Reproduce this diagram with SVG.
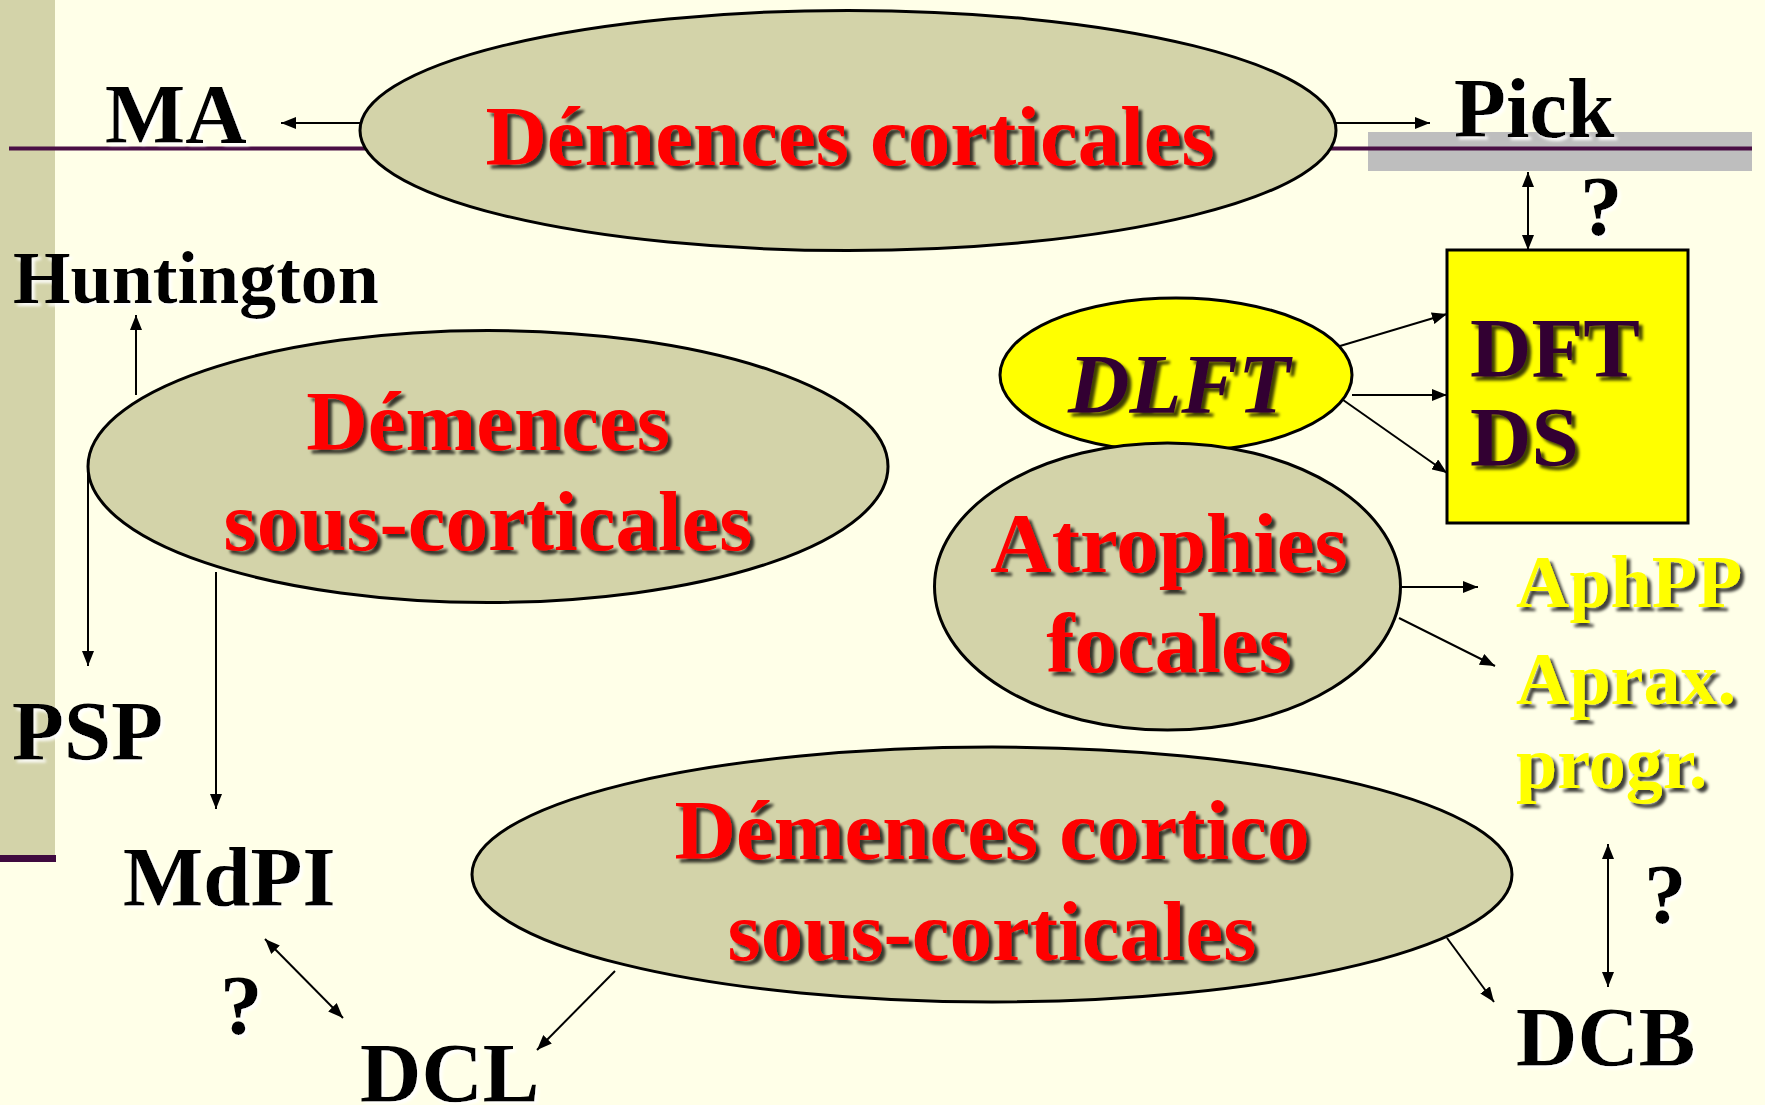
<svg xmlns="http://www.w3.org/2000/svg" width="1765" height="1105" viewBox="0 0 1765 1105">
<defs>
<style>
text{font-family:"Liberation Serif","Times New Roman",serif;font-weight:bold;}
.red{fill:#FF0000;font-size:85px;text-anchor:middle;filter:url(#dk);}
.blk{fill:#000;font-size:85px;filter:url(#lt);}
.sm{font-size:74px;}
.pur{fill:#330033;font-size:85px;filter:url(#dk);}
.yel{fill:#FFFF00;font-size:74px;filter:url(#dk);}
.ell{fill:#D3D3A9;stroke:#000;stroke-width:3;}
.con line{stroke:#000;stroke-width:2;fill:none;}
.one{marker-end:url(#ah);}
.two{marker-end:url(#ah);marker-start:url(#ah);}
</style>
<filter id="dk" x="-10%" y="-20%" width="130%" height="150%"><feDropShadow dx="4" dy="4" stdDeviation="1.5" flood-color="#000" flood-opacity="0.75"/></filter>
<filter id="lt" x="-10%" y="-20%" width="130%" height="150%"><feDropShadow dx="3" dy="3" stdDeviation="1.5" flood-color="#FFFFFF" flood-opacity="0.9"/></filter>
<marker id="ah" markerUnits="userSpaceOnUse" markerWidth="16" markerHeight="12" refX="15" refY="6" orient="auto-start-reverse"><path d="M0,0 L15,6 L0,12 z" fill="#000"/></marker>
</defs>
<rect x="0" y="0" width="1765" height="1105" fill="#FFFFE8"/>
<g id="background">
<rect x="0" y="0" width="55" height="856" fill="#D3D3A9"/>
<rect x="0" y="855" width="56" height="7" fill="#3F0A3F"/>
<rect x="1368" y="132" width="384" height="39" fill="#BEBEBE"/>
<line x1="9" y1="148.5" x2="1752" y2="148.5" stroke="#4A0F45" stroke-width="4"/>
</g>
<g class="con" id="connectors">
<line class="one" x1="360" y1="123" x2="281" y2="123"/>
<line class="one" x1="1336" y1="123" x2="1430" y2="123"/>
<line class="two" x1="1528" y1="250" x2="1528" y2="172"/>
<line class="one" x1="1340" y1="346" x2="1447" y2="314"/>
<line class="one" x1="1352" y1="395" x2="1447" y2="395"/>
<line class="one" x1="1336" y1="395" x2="1447" y2="473"/>
<line class="one" x1="1400" y1="587" x2="1478" y2="587"/>
<line class="one" x1="1399" y1="618" x2="1495" y2="666"/>
<line class="two" x1="1608" y1="844" x2="1608" y2="987"/>
<line class="one" x1="1447" y1="938" x2="1494" y2="1002"/>
<line class="one" x1="136" y1="395" x2="136" y2="315"/>
<line class="one" x1="88" y1="473" x2="88" y2="666"/>
<line class="one" x1="216" y1="572" x2="216" y2="809"/>
<line class="two" x1="265" y1="939" x2="343" y2="1018"/>
<line class="one" x1="615" y1="971" x2="537" y2="1050"/>
</g>
<g id="corticales">
<ellipse class="ell" cx="848" cy="130.5" rx="488" ry="120"/>
<text class="red" x="850" y="165">Démences corticales</text>
</g>
<g id="sous-corticales">
<ellipse class="ell" cx="488" cy="466.5" rx="400" ry="136"/>
<text class="red" x="488" y="450">Démences</text>
<text class="red" x="488" y="550">sous-corticales</text>
</g>
<g id="cortico-sous-corticales">
<ellipse class="ell" cx="992" cy="874.5" rx="520" ry="127.5"/>
<text class="red" x="992" y="859">Démences cortico</text>
<text class="red" x="992" y="960">sous-corticales</text>
</g>
<g id="dlft">
<ellipse cx="1176" cy="375" rx="176" ry="77" fill="#FFFF00" stroke="#000" stroke-width="3"/>
<text class="pur" x="1179" y="413" text-anchor="middle" font-style="italic">DLFT</text>
</g>
<g id="atrophies">
<ellipse class="ell" cx="1167.5" cy="586.5" rx="233" ry="143.5"/>
<text class="red" x="1169" y="572">Atrophies</text>
<text class="red" x="1169" y="672">focales</text>
</g>
<g id="dft-ds">
<rect x="1447" y="250" width="241" height="273" fill="#FFFF00" stroke="#000" stroke-width="3"/>
<text class="pur" x="1470" y="377">DFT</text>
<text class="pur" x="1470" y="466">DS</text>
</g>
<g id="ma"><text class="blk" x="105" y="143">MA</text></g>
<g id="pick"><text class="blk" x="1454" y="137">Pick</text></g>
<g id="q1"><text class="blk" x="1580" y="235">?</text></g>
<g id="huntington"><text class="blk sm" x="13" y="303">Huntington</text></g>
<g id="psp"><text class="blk" x="12" y="760">PSP</text></g>
<g id="mdpi"><text class="blk" x="123" y="906">MdPI</text></g>
<g id="q2"><text class="blk" x="220" y="1034">?</text></g>
<g id="dcl"><text class="blk" x="360" y="1102">DCL</text></g>
<g id="aphpp"><text class="yel" x="1516" y="607">AphPP</text></g>
<g id="aprax"><text class="yel" x="1516" y="704">Aprax.</text><text class="yel" x="1516" y="788">progr.</text></g>
<g id="q3"><text class="blk" x="1644" y="923">?</text></g>
<g id="dcb"><text class="blk" x="1516" y="1066">DCB</text></g>
</svg>
